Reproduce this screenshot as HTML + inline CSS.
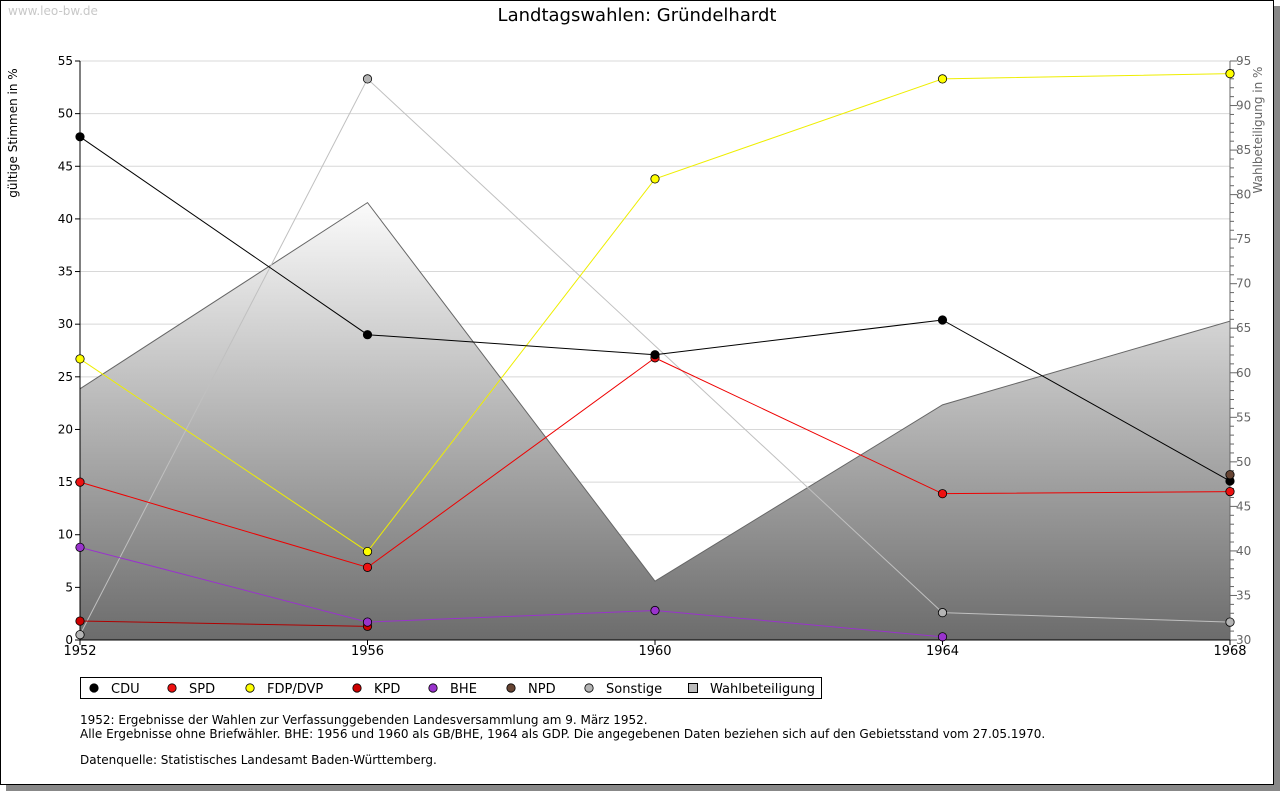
<!DOCTYPE html>
<html><head><meta charset="utf-8"><style>
body{margin:0;background:#fff;width:1280px;height:791px;overflow:hidden;font-family:"Liberation Sans","DejaVu Sans",sans-serif}
</style></head><body>
<svg id="chart" width="1280" height="791" xmlns="http://www.w3.org/2000/svg" font-family="DejaVu Sans, Liberation Sans, sans-serif">
<defs>
<linearGradient id="wg" gradientUnits="userSpaceOnUse" x1="0" y1="190" x2="0" y2="640">
<stop offset="0" stop-color="#ffffff"/><stop offset="1" stop-color="#6c6c6c"/></linearGradient>
</defs>
<rect x="6" y="6" width="1274" height="785" fill="#888"/>
<rect x="0.5" y="0.5" width="1273" height="784" fill="#fff" stroke="#000"/>
<text x="8" y="15" font-size="12" fill="#c8c8c8">www.leo-bw.de</text>
<text x="637" y="21" font-size="18" text-anchor="middle">Landtagswahlen: Gründelhardt</text>
<text transform="translate(17,133) rotate(-90)" font-size="12" text-anchor="middle">gültige Stimmen in %</text>
<text transform="translate(1262,130) rotate(-90)" font-size="12" text-anchor="middle" fill="#666">Wahlbeteiligung in %</text>
<g id="grid"></g><g id="area"></g><g id="axes"></g><g id="series"></g>
<g>
<rect x="80.5" y="677.5" width="741" height="21" fill="#fff" stroke="#000"/>
<g id="legend"></g>
</g>
<text font-size="12">
<tspan x="80" y="724">1952: Ergebnisse der Wahlen zur Verfassunggebenden Landesversammlung am 9. März 1952.</tspan>
<tspan x="80" y="738">Alle Ergebnisse ohne Briefwähler. BHE: 1956 und 1960 als GB/BHE, 1964 als GDP. Die angegebenen Daten beziehen sich auf den Gebietsstand vom 27.05.1970.</tspan>
<tspan x="80" y="764">Datenquelle: Statistisches Landesamt Baden-Württemberg.</tspan>
</text>
</svg>
<script>
const years=[1952,1956,1960,1964,1968];
const cdu=[47.8,29.0,27.1,30.4,15.1];
const spd=[15.0,6.9,26.8,13.9,14.1];
const fdp=[26.7,8.4,43.8,53.3,53.8];
const kpd=[1.8,1.3,null,null,null];
const bhe=[8.8,1.7,2.8,0.3,null];
const npd=[null,null,null,null,15.7];
const sonst=[0.5,53.3,null,2.6,1.7];
const turnout=[58.2,79.1,36.6,56.4,65.8];
const leftTicks=[0,5,10,15,20,25,30,35,40,45,50,55];
const rightTicks=[30,35,40,45,50,55,60,65,70,75,80,85,90,95];
const NS="http://www.w3.org/2000/svg";
const X0=80,X1=1230,YT=61,YB=640;
const x=yr=>X0+(yr-1952)/(1968-1952)*(X1-X0);
const y=v=>YB-v/55*(YB-YT);
const y2=v=>YB-(v-30)/65*(YB-YT);
function mk(tag,attrs,parent){const e=document.createElementNS(NS,tag);for(const k in attrs)e.setAttribute(k,attrs[k]);parent.appendChild(e);return e;}
const grid=document.getElementById('grid'),axes=document.getElementById('axes'),area=document.getElementById('area'),ser=document.getElementById('series');
leftTicks.forEach(t=>{
 if(t>0){const g=mk('line',{x1:X0,x2:X1,y1:y(t),y2:y(t),stroke:'#d8d8d8'},grid);
 
 }
 mk('line',{x1:X0-5,x2:X0,y1:y(t),y2:y(t),stroke:'#000'},axes);
 const tx=mk('text',{x:X0-7,y:y(t)+4,'font-size':12,'text-anchor':'end'},axes);tx.textContent=t;
 
 
});
rightTicks.forEach(t=>{
 for(let m=1;m<5&&t<95;m++){mk('line',{x1:X1,x2:X1+4,y1:y2(t+m),y2:y2(t+m),stroke:'#666'},axes);}
 mk('line',{x1:X1,x2:X1+7,y1:y2(t),y2:y2(t),stroke:'#666'},axes);
 const tx=mk('text',{x:X1+6,y:y2(t)+4,'font-size':12,fill:'#666'},axes);tx.textContent=t;
 
 
});
let d='M'+X0+','+YB;years.forEach((yr,i)=>d+=' L'+x(yr)+','+y2(turnout[i]));d+=' L'+X1+','+YB+' Z';
const ar=mk('path',{d:d,fill:'url(#wg)',stroke:'#666'},area);


mk('line',{x1:X0,x2:X0,y1:YT,y2:YB,stroke:'#000'},axes);
mk('line',{x1:X1,x2:X1,y1:YT,y2:YB,stroke:'#666'},axes);
mk('line',{x1:X0,x2:X1,y1:YB,y2:YB,stroke:'#000'},axes);
years.forEach(yr=>{mk('line',{x1:x(yr),x2:x(yr),y1:YB,y2:YB+5,stroke:'#000'},axes);
 const tx=mk('text',{x:x(yr),y:YB+15,'font-size':13,'text-anchor':'middle'},axes);tx.textContent=yr;
 
 });
const series=[['sonstige',sonst,'#c0c0c0','#b4b4b4'],['kpd',kpd,'#b00000','#cc0000'],['bhe',bhe,'#9933cc','#9933cc'],['spd',spd,'#ee0000','#ee1111'],['fdp',fdp,'#eeee00','#ffff00'],['cdu',cdu,'#000','#000'],['npd',npd,'#553322','#664433']];
series.forEach(([n,vals,lc,fc])=>{
 const g=mk('g',{},ser);
 
 
 const pts=[];years.forEach((yr,i)=>{if(vals[i]!=null)pts.push([x(yr),y(vals[i])]);});
 if(pts.length>1)mk('polyline',{points:pts.map(p=>p.join(',')).join(' '),fill:'none',stroke:lc},g);
 pts.forEach(p=>{const c=mk('circle',{cx:p[0],cy:p[1],r:4.2,fill:fc,stroke:'#000','stroke-width':0.8},g);
 
 });
});
const leg=document.getElementById('legend');
const li=[['CDU','#000',94],['SPD','#ee1111',172],['FDP/DVP','#ffff00',250],['KPD','#cc0000',357],['BHE','#9933cc',433],['NPD','#664433',511],['Sonstige','#b4b4b4',589]];
li.forEach(([t,c,lx])=>{const g=mk('g',{},leg);
 
 
 mk('circle',{cx:lx,cy:688,r:4.2,fill:c,stroke:'#000','stroke-width':0.8},g);
 const tx=mk('text',{x:lx+17,y:693,'font-size':13},g);tx.textContent=t;});
const g=mk('g',{},leg);


mk('rect',{x:688.5,y:683.5,width:9,height:9,fill:'#bbb',stroke:'#000'},g);
const tw=mk('text',{x:710,y:693,'font-size':13},g);tw.textContent='Wahlbeteiligung';
</script>
</body></html>
